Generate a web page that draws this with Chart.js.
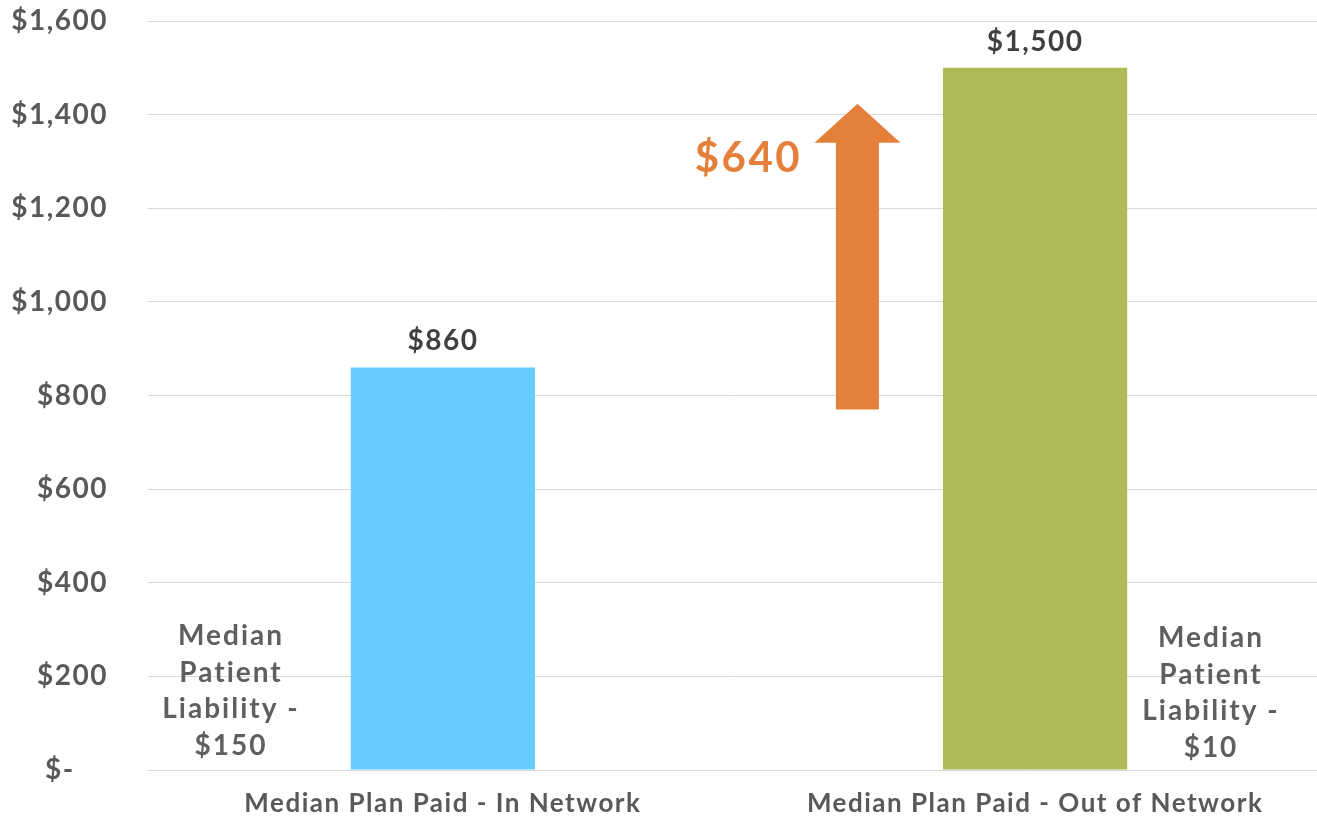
<!DOCTYPE html>
<html>
<head>
<meta charset="utf-8">
<script src="https://cdn.jsdelivr.net/npm/chart.js@4/dist/chart.umd.min.js"></script>
<style>
	html, body { margin:0; padding:0; background:#fff; }
</style>
</head>
<body>
<canvas id="c" width="1317" height="820"></canvas>
<script>
const categories = ['Median Plan Paid - In Network', 'Median Plan Paid - Out of Network']
const planPaid = [860, 1500]
const barColors = ['#66CCFF', '#AFBB58']
const valueLabels = ['$860', '$1,500']
const yTicks = [0, 200, 400, 600, 800, 1000, 1200, 1400, 1600]
const arrowRange = [770, 1423]   // base / tip of the orange arrow, in $
const arrowLabel = '$640'
const leftNote = ['Median', 'Patient', 'Liability -', '$150']
const rightNote = ['Median', 'Patient', 'Liability -', '$10']

const FONT = 'Lato, "Open Sans", sans-serif'
const fmt = v => v === 0 ? '$-\u00a0\u00a0\u00a0\u00a0' : '$' + v.toLocaleString('en-US')
const spacing = ctx => { ctx.letterSpacing = '1.5px' }

const extras = {
	id: 'extras',
	beforeUpdate(chart) { spacing(chart.ctx) },
	beforeDraw(chart) { spacing(chart.ctx) },
	afterDatasetsDraw(chart) {
		const ctx = chart.ctx, x = chart.scales.x, y = chart.scales.y, a = chart.chartArea
		const meta = chart.getDatasetMeta(0)
		ctx.save()
		ctx.textAlign = 'center'
		ctx.textBaseline = 'middle'

		//value labels
		ctx.font = 'bold 28px ' + FONT
		ctx.fillStyle = '#404040'
		meta.data.forEach((b, i) => ctx.fillText(valueLabels[i], b.x, b.y - 26))

		//arrow
		const ax = x.getPixelForValue(0.7)
		const base = y.getPixelForValue(arrowRange[0]), tip = y.getPixelForValue(arrowRange[1])
		const sw = 21.5, hw = 43, hh = 39
		ctx.fillStyle = '#E5803A'
		ctx.beginPath()
		ctx.moveTo(ax - sw, base)
		ctx.lineTo(ax - sw, tip + hh)
		ctx.lineTo(ax - hw, tip + hh)
		ctx.lineTo(ax, tip)
		ctx.lineTo(ax + hw, tip + hh)
		ctx.lineTo(ax + sw, tip + hh)
		ctx.lineTo(ax + sw, base)
		ctx.closePath()
		ctx.fill()
		ctx.letterSpacing = '2.5px'
		ctx.font = 'bold 42px ' + FONT
		ctx.fillText(arrowLabel, ax - 109, tip + 55)

		//notes
		ctx.letterSpacing = '2px'
		ctx.font = 'bold 28px ' + FONT
		ctx.fillStyle = '#5F5F5F'
		leftNote.forEach((t, i) => ctx.fillText(t, a.left + 83, 636 + i * 36.5))
		rightNote.forEach((t, i) => ctx.fillText(t, a.right - 106, 638 + i * 36.5))
		ctx.restore()
	}
}

new Chart(document.getElementById('c'), {
	type: 'bar',
	data: {
		datasets: [{
			data: planPaid.map((v, i) => ({ x: i, y: v })),
			backgroundColor: barColors,
			categoryPercentage: 1,
			barPercentage: 0.311
		}]
	},
	options: {
		responsive: false,
		animation: false,
		layout: { padding: { top: 21, right: 0, bottom: 0, left: 0 } },
		plugins: { legend: { display: false }, tooltip: { enabled: false } },
		scales: {
			x: {
				type: 'linear',
				offset: false,
				bounds: 'data',
				min: -0.498, max: 1.476,
				afterBuildTicks: s => { s.ticks = categories.map((c, i) => ({ value: i })) },
				grid: { display: false, offset: false },
				border: { display: false },
				ticks: { color: '#595959', font: { family: FONT, size: 26, weight: 'bold' }, padding: 10, maxRotation: 0, autoSkip: false, callback: v => categories[v] },
				afterFit: s => { s.height = 50; s.paddingLeft = 0; s.paddingRight = 0 }
			},
			y: {
				min: 0, max: 1600,
				afterBuildTicks: s => { s.ticks = yTicks.map(v => ({ value: v })) },
				grid: { color: '#D9D9D9', lineWidth: 1, drawTicks: false },
				border: { display: false },
				ticks: { color: '#595959', font: { family: FONT, size: 28, weight: 'bold' }, padding: 40, callback: fmt },
				afterFit: s => { s.width = 148; s.paddingTop = 0; s.paddingBottom = 0 }
			}
		}
	},
	plugins: [extras]
})
</script>
</body>
</html>
